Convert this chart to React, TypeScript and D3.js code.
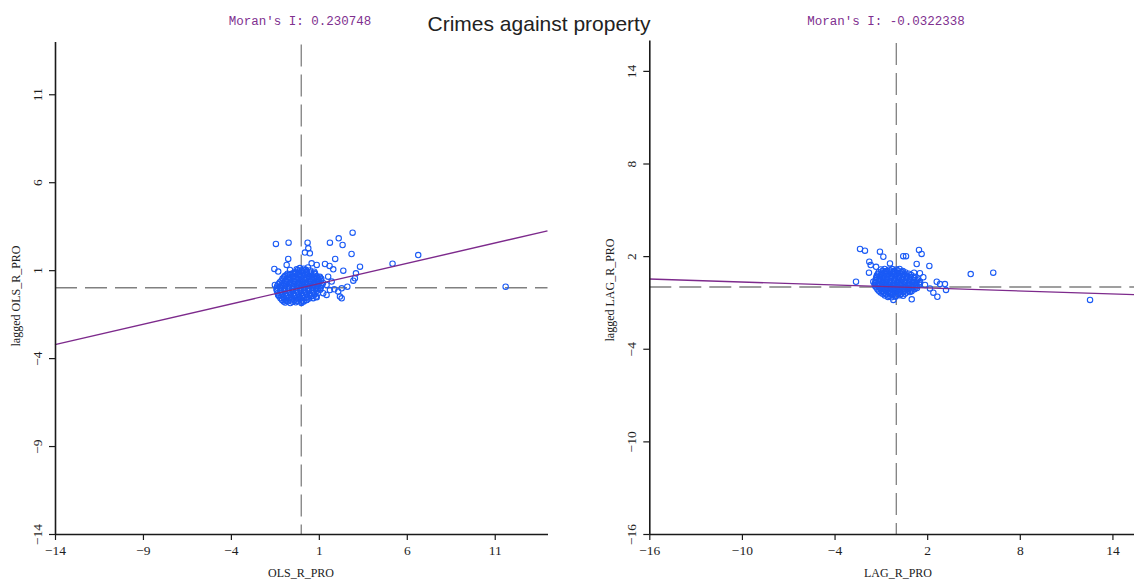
import * as d3 from 'd3'
import { useRef, useEffect } from 'react'

const W = 1134
const H = 581

const chartTitle = 'Crimes against property'

// left panel: OLS residuals
const olsName = 'OLS_R_PRO'
const olsMoran = 0.230748
const olsTicks = [-14, -9, -4, 1, 6, 11]
const olsPoints: [number, number][] = [
  // dense core
  [-0.08, 1.12], [0.15, 1.08], [0.38, 1.15],
  [-0.35, 0.88], [-0.12, 0.93], [0.1, 0.86], [0.31, 0.92], [0.55, 0.87], [0.74, 0.91],
  [-0.92, 0.68], [-0.66, 0.73], [-0.44, 0.67], [-0.21, 0.72], [0.02, 0.69], [0.22, 0.74], [0.44, 0.68], [0.66, 0.71], [0.88, 0.66],
  [-1.06, 0.52], [-0.84, 0.47], [-0.61, 0.53], [-0.39, 0.48], [-0.16, 0.51], [0.06, 0.46], [0.29, 0.53], [0.51, 0.49], [0.74, 0.52], [0.96, 0.47], [1.14, 0.51],
  [-1.22, 0.31], [-1.0, 0.27], [-0.79, 0.33], [-0.56, 0.28], [-0.34, 0.32], [-0.11, 0.27], [0.11, 0.31], [0.34, 0.29], [0.56, 0.33], [0.79, 0.28], [1.01, 0.31], [1.24, 0.27],
  [-1.36, 0.12], [-1.12, 0.08], [-0.9, 0.11], [-0.69, 0.07], [-0.46, 0.12], [-0.24, 0.09], [-0.01, 0.11], [0.21, 0.07], [0.44, 0.12], [0.66, 0.08], [0.89, 0.11], [1.13, 0.09],
  [-1.41, -0.09], [-1.19, -0.12], [-0.96, -0.08], [-0.74, -0.11], [-0.51, -0.07], [-0.29, -0.12], [-0.06, -0.09], [0.16, -0.11], [0.39, -0.08], [0.61, -0.12], [0.84, -0.09], [1.08, -0.11],
  [-1.34, -0.31], [-1.14, -0.28], [-0.91, -0.32], [-0.66, -0.29], [-0.44, -0.33], [-0.21, -0.28], [0.01, -0.31], [0.24, -0.27], [0.46, -0.32], [0.71, -0.29], [0.94, -0.31],
  [-1.26, -0.49], [-1.01, -0.52], [-0.79, -0.48], [-0.56, -0.51], [-0.34, -0.47], [-0.11, -0.52], [0.09, -0.49], [0.34, -0.53], [0.59, -0.48], [0.84, -0.51],
  [-1.09, -0.69], [-0.86, -0.72], [-0.61, -0.68], [-0.39, -0.71], [-0.16, -0.67], [0.04, -0.72], [0.29, -0.69],
  [-0.91, -0.84], [-0.62, -0.87], [-0.31, -0.83], [0.01, -0.86],
  // second layer of the core
  [-0.2, 1.0], [0.03, 0.99], [0.26, 1.02], [0.5, 0.98],
  [-0.78, 0.8], [-0.55, 0.79], [-0.32, 0.82], [-0.1, 0.78], [0.12, 0.81], [0.33, 0.79], [0.55, 0.8], [0.78, 0.77],
  [-0.98, 0.61], [-0.74, 0.58], [-0.5, 0.62], [-0.27, 0.59], [-0.05, 0.61], [0.17, 0.58], [0.4, 0.62], [0.62, 0.59], [0.85, 0.61], [1.05, 0.58],
  [-1.12, 0.41], [-0.9, 0.38], [-0.67, 0.42], [-0.45, 0.39], [-0.22, 0.41], [0.0, 0.38], [0.22, 0.42], [0.45, 0.39], [0.67, 0.41], [0.9, 0.38], [1.12, 0.41],
  [-1.29, 0.21], [-1.06, 0.18], [-0.84, 0.22], [-0.61, 0.19], [-0.39, 0.21], [-0.16, 0.18], [0.06, 0.22], [0.29, 0.19], [0.51, 0.21], [0.74, 0.18], [0.97, 0.22], [1.19, 0.19],
  [-1.39, 0.01], [-1.16, -0.02], [-0.94, 0.02], [-0.71, -0.01], [-0.49, 0.01], [-0.26, -0.02], [-0.04, 0.02], [0.19, -0.01], [0.41, 0.01], [0.64, -0.02], [0.86, 0.02], [1.09, -0.01],
  [-1.38, -0.19], [-1.16, -0.22], [-0.93, -0.18], [-0.71, -0.21], [-0.48, -0.19], [-0.26, -0.22], [-0.03, -0.18], [0.19, -0.21], [0.42, -0.19], [0.65, -0.22], [0.88, -0.18],
  [-1.3, -0.41], [-1.08, -0.38], [-0.86, -0.42], [-0.62, -0.39], [-0.39, -0.41], [-0.16, -0.38], [0.06, -0.42], [0.29, -0.39], [0.52, -0.41], [0.76, -0.38],
  [-1.18, -0.59], [-0.94, -0.62], [-0.71, -0.58], [-0.48, -0.61], [-0.26, -0.59], [-0.03, -0.62], [0.19, -0.58], [0.44, -0.61], [0.68, -0.59],
  [-1.0, -0.78], [-0.76, -0.77], [-0.49, -0.79], [-0.24, -0.76], [0.14, -0.78],
  // scattered points
  [-1.44, 2.49], [-0.72, 2.56], [0.36, 2.56], [1.63, 2.56], [2.13, 2.81], [2.35, 2.43], [2.92, 3.13],
  [2.86, 1.92], [1.93, 1.64], [0.4, 2.24], [0.49, 1.96], [0.21, 2.0], [0.59, 1.39], [-0.74, 1.64],
  [-0.83, 1.3], [-0.64, 1.01], [-1.53, 1.07], [-1.31, 0.92], [3.34, 1.2], [3.11, 0.82], [3.05, 0.54],
  [2.96, 0.4], [2.62, 0.06], [2.3, -0.03], [2.3, -0.6], [2.1, -0.22], [1.63, -0.13], [1.44, 0.16],
  [1.35, 1.35], [1.61, 1.24], [1.82, 1.05], [2.39, 0.97], [0.88, 1.3], [0.78, 0.82], [1.06, 0.63],
  [1.53, 0.63], [1.73, 0.35], [0.97, -0.03], [1.25, -0.31], [0.88, -0.54], [1.44, -0.41], [1.88, -0.09],
  [2.2, -0.5], [-1.5, 0.16], [-1.31, -0.41], [0.31, -0.69], [0.02, -0.79], [-0.45, 0.82], [-0.26, 1.05],
  [-0.83, 0.73], [5.19, 1.37], [6.65, 1.86], [11.62, 0.06],
]

// right panel: spatial lag residuals
const lagName = 'LAG_R_PRO'
const lagMoran = -0.0322338
const lagTicks = [-16, -10, -4, 2, 8, 14]
const lagPoints: [number, number][] = [
  // dense core
  [-1.0, 1.14], [-0.76, 1.17], [-0.49, 1.12], [-0.26, 1.16], [0.01, 1.13], [0.21, 1.17],
  [-1.14, 0.96], [-0.91, 0.93], [-0.66, 0.97], [-0.39, 0.94], [-0.16, 0.96], [0.09, 0.92], [0.36, 0.97], [0.59, 0.94],
  [-1.26, 0.74], [-1.01, 0.77], [-0.79, 0.73], [-0.56, 0.76], [-0.31, 0.72], [-0.04, 0.77], [0.19, 0.73], [0.46, 0.76], [0.69, 0.74], [0.96, 0.77],
  [-1.31, 0.56], [-1.06, 0.53], [-0.84, 0.57], [-0.61, 0.54], [-0.36, 0.56], [-0.09, 0.53], [0.16, 0.57], [0.39, 0.54], [0.66, 0.56], [0.89, 0.53], [1.16, 0.57], [1.39, 0.54],
  [-1.34, 0.34], [-1.11, 0.37], [-0.89, 0.33], [-0.66, 0.36], [-0.41, 0.34], [-0.14, 0.37], [0.06, 0.33], [0.31, 0.36], [0.54, 0.34], [0.81, 0.37], [1.04, 0.33], [1.31, 0.36], [1.54, 0.34],
  [-1.41, 0.16], [-1.14, 0.13], [-0.91, 0.17], [-0.69, 0.14], [-0.46, 0.16], [-0.21, 0.13], [0.01, 0.17], [0.26, 0.14], [0.49, 0.16], [0.76, 0.13], [0.99, 0.17], [1.26, 0.14], [1.49, 0.16],
  [-1.29, -0.04], [-1.06, -0.07], [-0.84, -0.03], [-0.61, -0.06], [-0.34, -0.04], [-0.11, -0.07], [0.11, -0.03], [0.34, -0.06], [0.61, -0.04], [0.84, -0.07], [1.11, -0.03], [1.34, -0.06],
  [-1.14, -0.24], [-0.91, -0.27], [-0.69, -0.23], [-0.46, -0.26], [-0.19, -0.24], [0.01, -0.27], [0.26, -0.23], [0.49, -0.26], [0.76, -0.24], [0.99, -0.27],
  [-0.89, -0.44], [-0.66, -0.47], [-0.39, -0.43], [-0.21, -0.46], [0.06, -0.44], [0.29, -0.47], [0.56, -0.43],
  [-0.54, -0.64], [-0.31, -0.67], [-0.06, -0.63],
  // second layer of the core
  [-0.88, 1.05], [-0.62, 1.04], [-0.38, 1.07], [-0.12, 1.03], [0.12, 1.06], [0.42, 1.04],
  [-1.2, 0.85], [-0.96, 0.84], [-0.72, 0.87], [-0.47, 0.83], [-0.22, 0.86], [0.04, 0.84], [0.28, 0.87], [0.52, 0.83], [0.8, 0.86],
  [-1.28, 0.65], [-1.04, 0.63], [-0.82, 0.66], [-0.58, 0.64], [-0.33, 0.67], [-0.08, 0.63], [0.18, 0.66], [0.42, 0.64], [0.68, 0.67], [0.92, 0.63], [1.18, 0.66],
  [-1.34, 0.45], [-1.08, 0.43], [-0.86, 0.46], [-0.62, 0.44], [-0.38, 0.47], [-0.12, 0.43], [0.12, 0.46], [0.36, 0.44], [0.62, 0.47], [0.86, 0.43], [1.12, 0.46], [1.36, 0.44],
  [-1.38, 0.25], [-1.12, 0.23], [-0.9, 0.26], [-0.66, 0.24], [-0.42, 0.27], [-0.18, 0.23], [0.06, 0.26], [0.3, 0.24], [0.56, 0.27], [0.8, 0.23], [1.06, 0.26], [1.3, 0.24], [1.5, 0.27],
  [-1.36, 0.05], [-1.12, 0.03], [-0.88, 0.06], [-0.64, 0.04], [-0.4, 0.07], [-0.16, 0.03], [0.08, 0.06], [0.32, 0.04], [0.58, 0.07], [0.82, 0.03], [1.06, 0.06], [1.3, 0.04],
  [-1.22, -0.15], [-0.98, -0.17], [-0.76, -0.14], [-0.52, -0.16], [-0.28, -0.13], [-0.04, -0.17], [0.2, -0.14], [0.44, -0.16], [0.7, -0.13], [0.94, -0.17], [1.18, -0.14],
  [-1.02, -0.35], [-0.78, -0.37], [-0.56, -0.34], [-0.32, -0.36], [-0.08, -0.33], [0.16, -0.37], [0.4, -0.34], [0.66, -0.36], [0.88, -0.33],
  [-0.74, -0.55], [-0.5, -0.57], [-0.26, -0.54], [-0.02, -0.56], [0.22, -0.53], [0.44, -0.57],
  // scattered points
  [-2.35, 2.46], [-2.03, 2.35], [-1.06, 2.29], [-0.84, 1.96], [0.45, 2.0], [0.63, 2.0], [1.47, 2.4],
  [1.64, 2.14], [1.32, 1.49], [2.14, 1.36], [-1.75, 1.64], [-1.66, 1.42], [-1.31, 1.31], [-0.41, 1.53],
  [-1.77, 0.93], [-2.61, 0.34], [-1.49, 0.34], [2.62, 0.34], [2.83, 0.19], [3.15, 0.19], [3.22, -0.19],
  [2.66, -0.63], [2.4, -0.37], [2.18, -0.09], [1.0, -0.8], [-0.19, -0.84], [1.53, 0.89], [1.15, 0.93],
  [1.75, 0.63], [1.86, 0.13], [4.82, 0.84], [6.28, 0.93], [12.55, -0.84],
]

const panels = [
  { name: olsName, moran: olsMoran, moranText: '0.230748', ticks: olsTicks, points: olsPoints, ext: 14, x0: 55, x1: 547.5, y1: 41.5, moranX: 300, titleX: 301, yTitleX: 16, yTitleY: 296 },
  { name: lagName, moran: lagMoran, moranText: '-0.0322338', ticks: lagTicks, points: lagPoints, ext: 16, x0: 649.3, x1: 1143.3, y1: 40, moranX: 886, titleX: 898, yTitleX: 610, yTitleY: 290 },
]

export default function App() {
  const svgRef = useRef<SVGSVGElement>(null)
  useEffect(() => {
    const svg = d3.select(svgRef.current)
    svg.selectAll('*').remove()
    const bottom = 534

    panels.forEach(p => {
      const x = d3.scaleLinear().domain([-p.ext, p.ext]).range([p.x0, p.x1])
      const y = d3.scaleLinear().domain([-p.ext, p.ext]).range([bottom, p.y1])
      const g = svg.append('g')

      // mean lines
      g.append('line')
        .attr('x1', x(0)).attr('x2', x(0))
        .attr('y1', y(p.ext) + 3).attr('y2', bottom)
        .attr('stroke', '#808080').attr('stroke-width', 1.3)
        .attr('stroke-dasharray', '22,8')
      g.append('line')
        .attr('x1', p.x0).attr('x2', p.x1)
        .attr('y1', y(0)).attr('y2', y(0))
        .attr('stroke', '#808080').attr('stroke-width', 1.3)
        .attr('stroke-dasharray', '22,8')

      // points
      g.append('g').selectAll('circle')
        .data(p.points)
        .join('circle')
        .attr('cx', d => x(d[0]))
        .attr('cy', d => y(d[1]))
        .attr('r', 2.7)
        .attr('fill', 'none')
        .attr('stroke', '#1a5af5')
        .attr('stroke-width', 1.1)

      // moran slope line
      g.append('line')
        .attr('x1', x(-p.ext)).attr('y1', y(-p.ext * p.moran))
        .attr('x2', x(p.ext)).attr('y2', y(p.ext * p.moran))
        .attr('stroke', '#7d2a8c').attr('stroke-width', 1.4)

      // axes
      const xAxis = g.append('g')
        .attr('transform', `translate(0,${bottom})`)
        .call(d3.axisBottom(x).tickValues(p.ticks).tickSize(6).tickSizeOuter(0).tickFormat(d3.format('d')))
      const yAxis = g.append('g')
        .attr('transform', `translate(${p.x0},0)`)
        .call(d3.axisLeft(y).tickValues(p.ticks).tickSize(6).tickSizeOuter(0).tickFormat(d3.format('d')))

      ;[xAxis, yAxis].forEach(a => {
        a.select('.domain').attr('stroke', '#1a1a1a').attr('stroke-width', 1.6)
        a.selectAll('.tick line').attr('stroke', '#1a1a1a').attr('stroke-width', 1.2)
        a.selectAll('text')
          .attr('fill', '#1e1e1e')
          .attr('font-family', '"Liberation Serif", serif')
          .attr('font-size', 13.5)
      })
      xAxis.selectAll('text').attr('y', 11)
      yAxis.selectAll('text')
        .attr('x', null)
        .attr('dy', '0.35em')
        .attr('text-anchor', 'middle')
        .attr('transform', 'translate(-18,0) rotate(-90)')

      // labels
      g.append('text')
        .text(p.name)
        .attr('x', p.titleX).attr('y', 577)
        .attr('text-anchor', 'middle')
        .attr('font-family', '"Liberation Serif", serif')
        .attr('font-size', 12)
        .attr('fill', '#222')
      g.append('text')
        .text(`lagged ${p.name}`)
        .attr('transform', `translate(${p.yTitleX},${p.yTitleY}) rotate(-90)`)
        .attr('dy', '0.35em')
        .attr('text-anchor', 'middle')
        .attr('font-family', '"Liberation Serif", serif')
        .attr('font-size', 12)
        .attr('fill', '#222')
      g.append('text')
        .text(`Moran's I: ${p.moranText}`)
        .attr('x', p.moranX).attr('y', 25)
        .attr('text-anchor', 'middle')
        .attr('font-family', '"Liberation Mono", monospace')
        .attr('font-size', 12.5)
        .attr('fill', '#80308f')
    })

    svg.append('text')
      .text(chartTitle)
      .attr('x', 539).attr('y', 31)
      .attr('text-anchor', 'middle')
      .attr('font-family', '"Liberation Sans", sans-serif')
      .attr('font-size', 21)
      .attr('fill', '#222')
  }, [])

  return (
    <svg ref={svgRef} width={W} height={H}
      style={{ position: 'absolute', left: 0, top: 0, background: '#fff' }} />
  )
}
